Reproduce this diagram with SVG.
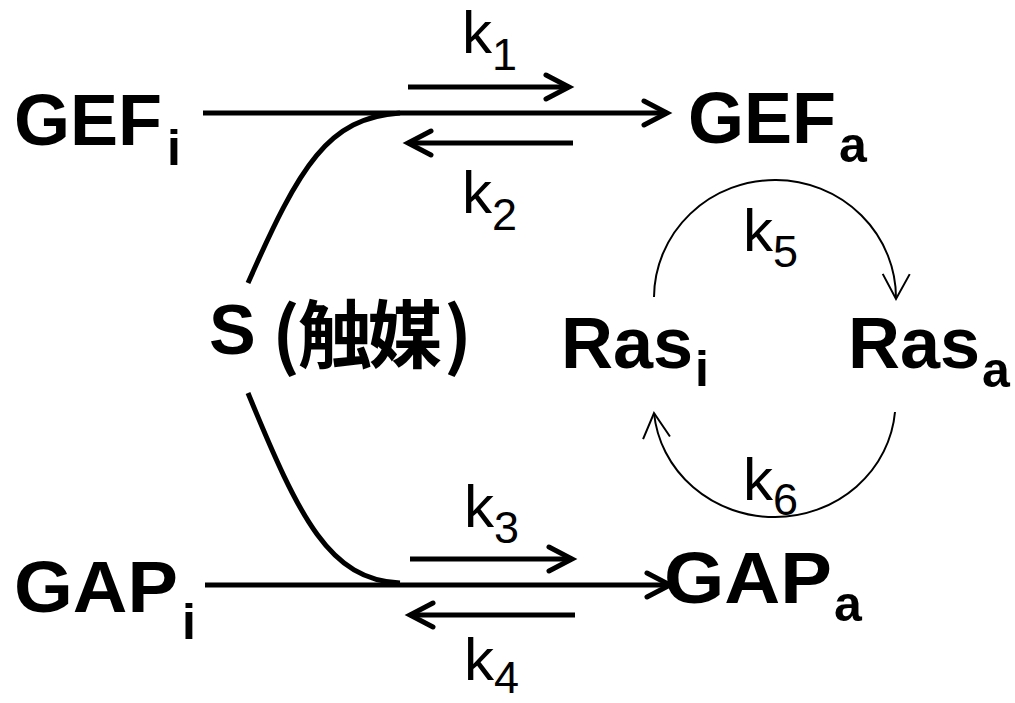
<svg xmlns="http://www.w3.org/2000/svg" width="1015" height="703" viewBox="0 0 1015 703">
<defs>
<style>
.lbl{font-family:"Liberation Sans",Arial,sans-serif;font-weight:bold;fill:#000}
.k{font-family:"Liberation Sans",Arial,sans-serif;fill:#000}
.thick{stroke:#000;stroke-width:5;fill:none}
.thin{stroke:#000;stroke-width:2;fill:none}
.cjk{font-family:"Noto Sans CJK JP","Noto Sans CJK SC",sans-serif;font-weight:bold;fill:#000}
</style>
<marker id="ah" markerUnits="userSpaceOnUse" viewBox="-30 -16 34 32" refX="0" refY="0" markerWidth="34" markerHeight="32" orient="auto" overflow="visible">
<path d="M-23,-12 L0,0 L-23,12" fill="none" stroke="#000" stroke-width="5" stroke-linecap="round" stroke-linejoin="miter"/>
</marker>
<marker id="ahThin" markerUnits="userSpaceOnUse" viewBox="-30 -16 34 32" refX="0" refY="0" markerWidth="34" markerHeight="32" orient="auto" overflow="visible">
<path d="M-25,-13.5 L0,0 L-25,13.5" fill="none" stroke="#000" stroke-width="2"/>
</marker>
</defs>
<rect width="1015" height="703" fill="#fff"/>

<g id="connectors">
<line class="thick" x1="203" y1="113" x2="667" y2="113" marker-end="url(#ah)"/>
<line class="thick" x1="408" y1="87" x2="569" y2="87" marker-end="url(#ah)"/>
<line class="thick" x1="573" y1="143" x2="408" y2="143" marker-end="url(#ah)"/>
<path class="thick" d="M248,283 C300,165 328,118 400,113"/>
<line class="thick" x1="205" y1="585" x2="670" y2="585" marker-end="url(#ah)"/>
<line class="thick" x1="410" y1="559" x2="572" y2="559" marker-end="url(#ah)"/>
<line class="thick" x1="575" y1="615" x2="410" y2="615" marker-end="url(#ah)"/>
<path class="thick" d="M248,393 C300,520 330,580 400,583"/>
<path class="thin" d="M654,297 A121,118 0 0 1 896,299" marker-end="url(#ahThin)"/>
<path class="thin" d="M895,412 A121,115 0 0 1 654,413" marker-end="url(#ahThin)"/>
</g>

<g id="GEFi"><text class="lbl" x="14" y="145" font-size="72">GEF</text><text class="lbl" x="167" y="165" font-size="50">i</text></g>
<g id="GEFa"><text class="lbl" x="688" y="143" font-size="72">GEF</text><text class="lbl" x="839" y="162" font-size="50">a</text></g>
<g id="GAPi"><text class="lbl" x="14" y="612" font-size="72" textLength="164" lengthAdjust="spacingAndGlyphs">GAP</text><text class="lbl" x="182" y="639" font-size="50">i</text></g>
<g id="GAPa"><text class="lbl" x="664" y="603" font-size="72" textLength="168" lengthAdjust="spacingAndGlyphs">GAP</text><text class="lbl" x="834" y="621" font-size="50">a</text></g>
<g id="Rasi"><text class="lbl" x="561" y="368" font-size="72">Ras</text><text class="lbl" x="695" y="386" font-size="50">i</text></g>
<g id="Rasa"><text class="lbl" x="848" y="368" font-size="72">Ras</text><text class="lbl" x="982" y="387" font-size="50">a</text></g>
<g id="S"><text class="lbl" y="354"><tspan x="209" font-size="70">S</tspan><tspan class="cjk" x="272" y="362" font-size="74" font-weight="normal">(</tspan><tspan class="cjk" x="298 368" y="362" font-size="74">触媒</tspan><tspan class="cjk" x="444" y="362" font-size="74" font-weight="normal">)</tspan></text></g>

<g id="k1"><text class="k" x="462" y="53" font-size="60">k<tspan font-size="45" y="70">1</tspan></text></g>
<g id="k2"><text class="k" x="462" y="213" font-size="60">k<tspan font-size="45" y="230">2</tspan></text></g>
<g id="k3"><text class="k" x="464" y="527" font-size="60">k<tspan font-size="45" y="543">3</tspan></text></g>
<g id="k4"><text class="k" x="464" y="680" font-size="60">k<tspan font-size="45" y="693">4</tspan></text></g>
<g id="k5"><text class="k" x="743" y="251" font-size="60">k<tspan font-size="45" y="267">5</tspan></text></g>
<g id="k6"><text class="k" x="743" y="500" font-size="60">k<tspan font-size="45" y="515">6</tspan></text></g>
</svg>
